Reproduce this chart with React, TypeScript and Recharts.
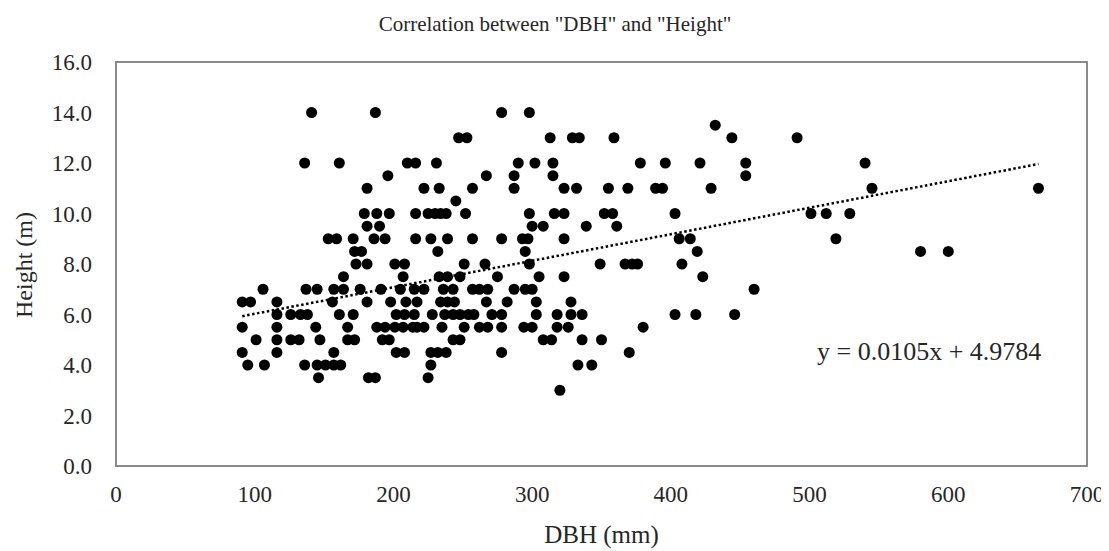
import React from 'react';
import {
  ScatterChart, Scatter, XAxis, YAxis, ReferenceArea, ReferenceLine, Customized, Label
} from 'recharts';

// DBH (mm) of every tree, grouped by its measured height (m)
const dbhAt14 = [141, 187, 278, 298];
const dbhAt13_5 = [432];
const dbhAt13 = [247, 253, 313, 329, 334, 359, 444, 491];
const dbhAt12 = [136, 161, 210, 216, 231, 290, 302, 315, 378, 396, 421, 454, 540];
const dbhAt11_5 = [196, 267, 287, 315, 454];
const dbhAt11 = [181, 222, 233, 257, 287, 323, 332, 355, 369, 389, 394, 429, 545, 665];
const dbhAt10_5 = [245];
const dbhAt10 = [179, 188, 197, 216, 225, 230, 234, 238, 252, 298, 316, 323, 352, 358, 403, 501, 512, 529];
const dbhAt9_5 = [181, 190, 300, 308, 339, 361];
const dbhAt9 = [153, 159, 171, 186, 194, 216, 227, 239, 257, 278, 293, 297, 323, 406, 414, 519];
const dbhAt8_5 = [172, 177, 232, 295, 419, 580, 600];
const dbhAt8 = [173, 181, 201, 208, 251, 266, 298, 349, 367, 372, 376, 408];
const dbhAt7_5 = [164, 207, 233, 239, 248, 275, 305, 323, 423];
const dbhAt7 = [106, 137, 145, 157, 164, 176, 191, 205, 215, 222, 236, 243, 257, 262, 268, 287, 295, 300, 460];
const dbhAt6_5 = [91, 97, 116, 156, 181, 198, 209, 217, 234, 239, 244, 267, 282, 303, 328];
const dbhAt6 = [116, 126, 133, 138, 161, 171, 202, 208, 215, 228, 237, 243, 248, 254, 258, 271, 278, 303, 318, 328, 336, 403, 418, 446];
const dbhAt5_5 = [91, 116, 144, 167, 188, 194, 201, 207, 214, 217, 222, 235, 251, 262, 268, 278, 294, 300, 318, 326, 380];
const dbhAt5 = [101, 116, 126, 132, 147, 167, 172, 192, 197, 243, 248, 308, 314, 336, 350];
const dbhAt4_5 = [91, 116, 157, 202, 208, 227, 232, 238, 278, 370];
const dbhAt4 = [95, 107, 136, 145, 151, 157, 162, 227, 333, 343];
const dbhAt3_5 = [146, 182, 187, 225];
const dbhAt3 = [320];

const heightRows: [number, number[]][] = [
  [14, dbhAt14], [13.5, dbhAt13_5], [13, dbhAt13], [12, dbhAt12], [11.5, dbhAt11_5],
  [11, dbhAt11], [10.5, dbhAt10_5], [10, dbhAt10], [9.5, dbhAt9_5], [9, dbhAt9],
  [8.5, dbhAt8_5], [8, dbhAt8], [7.5, dbhAt7_5], [7, dbhAt7], [6.5, dbhAt6_5],
  [6, dbhAt6], [5.5, dbhAt5_5], [5, dbhAt5], [4.5, dbhAt4_5], [4, dbhAt4],
  [3.5, dbhAt3_5], [3, dbhAt3],
];

const xTicks = [0, 100, 200, 300, 400, 500, 600, 700];
const yTicks = [0, 2, 4, 6, 8, 10, 12, 14, 16];

// linear trendline from the reference
const slope = 0.0105;
const intercept = 4.9784;

const trees = heightRows.flatMap(([h, list]) => list.map((dbh) => ({ dbh, h })));
const minDbh = Math.min(...trees.map((t) => t.dbh));
const maxDbh = Math.max(...trees.map((t) => t.dbh));

const FONT = '"Liberation Serif", "Times New Roman", serif';
const TEXT = '#262626';

const Dot = (props: any) => <circle cx={props.cx} cy={props.cy} r={5.5} fill="#000" />;

export default function App() {
  return (
    <div style={{ position: 'relative', width: 1101, height: 543 }}>
      <div
        style={{
          position: 'absolute', left: 0, top: 4, width: 1094, textAlign: 'center',
          fontFamily: FONT, fontSize: 21, lineHeight: '24px', color: TEXT,
        }}
      >
        Correlation between "DBH" and "Height"
      </div>
      <ScatterChart width={1101} height={543} margin={{ top: 54, right: 22, bottom: 0, left: 0 }}>
        <XAxis
          type="number"
          dataKey="dbh"
          domain={[0, 700]}
          ticks={xTicks}
          tickLine={false}
          axisLine={false}
          tickSize={0}
          tickMargin={20}
          height={85}
          tick={{ fontFamily: FONT, fontSize: 23, fill: TEXT }}
        >
          <Label value="DBH (mm)" position="insideBottom" offset={8}
            style={{ fontFamily: FONT, fontSize: 25, fill: TEXT }} />
        </XAxis>
        <YAxis
          type="number"
          dataKey="h"
          domain={[0, 16]}
          ticks={yTicks}
          tickFormatter={(v: number) => v.toFixed(1)}
          tickLine={false}
          axisLine={false}
          tickSize={0}
          tickMargin={24}
          width={108}
          tick={{ fontFamily: FONT, fontSize: 23, fill: TEXT }}
        />
        <ReferenceArea x1={0} x2={700} y1={0} y2={16} fill="none" stroke="#8a8a8a" strokeWidth={2} ifOverflow="visible" />
        <Scatter data={trees} shape={Dot} isAnimationActive={false} />
        <ReferenceLine
          segment={[
            { x: minDbh, y: slope * minDbh + intercept },
            { x: maxDbh, y: slope * maxDbh + intercept },
          ]}
          stroke="#000"
          strokeWidth={2.5}
          strokeDasharray="2.5 2.5"
        />
        <Customized
          component={() => (
            <g fontFamily={FONT} fill={TEXT}>
              <text x={809} y={352} fontSize={26}>
                y = 0.0105x + 4.9784
              </text>
              <text x={24} y={257} fontSize={24} textAnchor="middle" transform="rotate(-90 24 257)">
                Height (m)
              </text>
            </g>
          )}
        />
      </ScatterChart>
    </div>
  );
}
